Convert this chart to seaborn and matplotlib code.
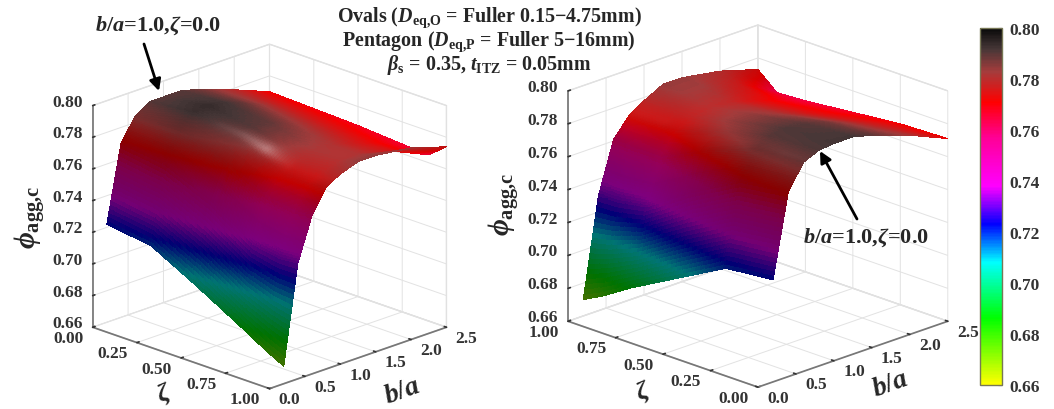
"""Two 3D surfaces of phi_agg,c over zeta and b/a, with a shared colorbar."""
import numpy as np
import seaborn as sns
import matplotlib.pyplot as plt
from matplotlib.cm import ScalarMappable
from matplotlib.colors import LinearSegmentedColormap, Normalize

sns.set_theme(style="white")
plt.rcParams['font.family'] = ['Liberation Serif', 'DejaVu Serif']
plt.rcParams['font.weight'] = 'bold'
plt.rcParams.update({
    'mathtext.fontset': 'custom',
    'mathtext.rm': 'Liberation Serif:bold',
    'mathtext.it': 'Liberation Serif:bold:italic',
    'mathtext.bf': 'Liberation Serif:bold',
})

# values
ZETA = [0.0, 0.25, 0.5, 0.75, 0.9, 1.0]
BA = [0.2, 0.4, 0.6, 0.8, 1.0, 1.25, 1.5, 2.0, 2.5]
PHI_LEFT = [
    [0.722, 0.770, 0.784, 0.790, 0.790, 0.790, 0.787, 0.779, 0.770],
    [0.718, 0.766, 0.785, 0.793, 0.794, 0.792, 0.788, 0.778, 0.769],
    [0.703, 0.754, 0.776, 0.786, 0.790, 0.789, 0.785, 0.776, 0.768],
    [0.687, 0.735, 0.762, 0.774, 0.779, 0.782, 0.781, 0.774, 0.766],
    [0.677, 0.732, 0.759, 0.773, 0.778, 0.781, 0.781, 0.775, 0.765],
    [0.671, 0.733, 0.760, 0.775, 0.780, 0.784, 0.784, 0.781, 0.774],
]
PHI_RIGHT = [
    [0.722, 0.772, 0.787, 0.791, 0.792, 0.792, 0.789, 0.781, 0.771],
    [0.719, 0.768, 0.785, 0.790, 0.791, 0.790, 0.787, 0.778, 0.770],
    [0.703, 0.752, 0.774, 0.782, 0.785, 0.785, 0.782, 0.774, 0.767],
    [0.687, 0.733, 0.760, 0.773, 0.778, 0.780, 0.779, 0.772, 0.764],
    [0.676, 0.730, 0.760, 0.772, 0.778, 0.783, 0.783, 0.776, 0.763],
    [0.670, 0.730, 0.761, 0.772, 0.778, 0.784, 0.784, 0.780, 0.773],
]
ZETA_TICKS = [0.0, 0.25, 0.5, 0.75, 1.0]
BA_TICKS = [0.0, 0.5, 1.0, 1.5, 2.0, 2.5]
PHI_TICKS = [0.66, 0.68, 0.70, 0.72, 0.74, 0.76, 0.78, 0.80]

CMAP_STOPS = [0.66, 0.686, 0.708, 0.723, 0.738, 0.757, 0.771, 0.783, 0.792, 0.80]
CMAP_COLORS = ['#ffff00', '#00ff00', '#00ffff', '#0000ff', '#ff00ff', '#ff0096',
               '#ff0000', '#a53c3c', '#463737', '#0a0a0a']

PHI_MIN, PHI_MAX = 0.66, 0.80
norm = Normalize(PHI_MIN, PHI_MAX)
cmap = LinearSegmentedColormap.from_list(
    'phi', [((s - PHI_MIN) / (PHI_MAX - PHI_MIN), c) for s, c in zip(CMAP_STOPS, CMAP_COLORS)])

ELEV, AZIM = 20.3, -45
SUB = 20  # facets per table cell, only so the colours blend across a cell


def fine_axis(values):
    values = np.asarray(values)
    idx = np.linspace(0, len(values) - 1, (len(values) - 1) * SUB + 1)
    return idx, np.interp(idx, np.arange(len(values)), values)


def fine_surface(phi):
    """each table cell split into SUB x SUB flat facets"""
    zi, zeta = fine_axis(ZETA)
    bi, ba = fine_axis(BA)
    phi = np.asarray(phi)
    rows = np.array([np.interp(bi, np.arange(len(BA)), r) for r in phi])
    fine = np.array([np.interp(zi, np.arange(len(ZETA)), c) for c in rows.T]).T
    return zeta, ba, fine


def blur(field, width):
    """box blur along both grid directions, edges held"""
    kernel = np.ones(width) / width
    pad = width // 2
    for axis in (0, 1):
        padded = np.pad(field, [(pad, pad) if a == axis else (0, 0) for a in range(field.ndim)], mode='edge')
        field = np.apply_along_axis(lambda v: np.convolve(v, kernel, mode='valid'), axis, padded)
    return field


def facet_colors(x, y, z, flip, box_z, light, spec_gain):
    """colormap colour darkened on steep facets, with a soft highlight"""
    X, Y = np.meshgrid(x, y, indexing='ij')
    bx = (1 - X if flip else X)
    by = Y / 2.5
    bz = (z - PHI_MIN) / (PHI_MAX - PHI_MIN) * box_z
    d1 = np.stack([bx[1:, 1:] - bx[:-1, :-1], by[1:, 1:] - by[:-1, :-1], bz[1:, 1:] - bz[:-1, :-1]], -1)
    d2 = np.stack([bx[1:, :-1] - bx[:-1, 1:], by[1:, :-1] - by[:-1, 1:], bz[1:, :-1] - bz[:-1, 1:]], -1)
    n = np.cross(d2, d1)
    n = n * np.sign(n[..., 2:3])
    n = n / np.linalg.norm(n, axis=-1, keepdims=True)
    n = np.stack([blur(n[..., i], SUB + 1) for i in range(3)], -1)
    n = n / np.linalg.norm(n, axis=-1, keepdims=True)
    mid = 0.25 * (z[1:, 1:] + z[:-1, :-1] + z[1:, :-1] + z[:-1, 1:])
    col = cmap(norm(mid))
    shade = 0.42 + 0.58 * np.clip(n[..., 2], 0, 1) ** 2
    col[..., :3] *= shade[..., None]
    h = np.asarray(light, float)
    h = h / np.linalg.norm(h)
    spec = np.clip((n * h).sum(-1), 0, 1) ** 120 * spec_gain
    col[..., :3] += (1 - col[..., :3]) * spec[..., None]
    return col


def draw_panel(fig, rect, phi, zeta_lim, box_z, light, spec_gain):
    ax = fig.add_axes(rect, projection='3d')
    ax.set_proj_type('ortho')
    ax.view_init(elev=ELEV, azim=AZIM)
    ax.set_box_aspect((1, 1, box_z), zoom=1.0)
    zeta, ba, fine = fine_surface(phi)
    colors = facet_colors(zeta, ba, fine, zeta_lim[0] > zeta_lim[1], box_z, light, spec_gain)
    X, Y = np.meshgrid(zeta, ba, indexing='ij')
    ax.plot_surface(X, Y, fine, facecolors=colors, rstride=1, cstride=1,
                    linewidth=0, antialiased=False, shade=False)
    ax.set_xlim(*zeta_lim)
    ax.set_ylim(0, 2.5)
    ax.set_zlim(PHI_MIN, PHI_MAX)
    ax.set_xticks(ZETA_TICKS, [f'{t:.2f}' for t in ZETA_TICKS])
    ax.set_yticks(BA_TICKS, [f'{t:.1f}' for t in BA_TICKS])
    ax.set_zticks(PHI_TICKS, [f'{t:.2f}' for t in PHI_TICKS])
    ax.zaxis.set_ticks_position('lower')
    ax.tick_params(axis='x', labelsize=12.5, pad=0, colors='#333333')
    ax.tick_params(axis='y', labelsize=12.5, pad=0, colors='#333333')
    ax.tick_params(axis='z', labelsize=12.5, pad=3, colors='#333333')
    for axis in (ax.xaxis, ax.yaxis, ax.zaxis):
        axis.set_pane_color((1, 1, 1, 1))
        axis.pane.set_edgecolor('#dddddd')
        axis._axinfo['grid'].update(color='#e2e2e2', linewidth=0.7)
        axis._axinfo['axisline']['color'] = '#777777'
        axis._axinfo['tick'].update(color='#555555', inward_factor=0.0, outward_factor=0.15)
        axis.line.set_color('#777777')
        for lab in axis.get_ticklabels():
            lab.set_fontweight('bold')
            lab.set_va('baseline')
    for lab in ax.get_xticklabels():
        lab.set_ha('right')
    for lab in ax.get_yticklabels():
        lab.set_ha('left')
    return ax


fig = plt.figure(figsize=(10.54, 4.10), dpi=100)

PX_W, PX_H = 1054.0, 410.0
side = 413.0
ax_left = draw_panel(fig, [(264 - side / 2) / PX_W, 1 - (223 + side / 2) / PX_H, side / PX_W, side / PX_H],
                     PHI_LEFT, (0, 1), 0.945, (0.36, -0.34, 0.87), 0.55)
side_r = 439.0
ax_right = draw_panel(fig, [(752 - side_r / 2) / PX_W, 1 - (213 + side_r / 2) / PX_H, side_r / PX_W, side_r / PX_H],
                      PHI_RIGHT, (1, 0), 0.915, (0.1, -0.5, 0.86), 0.1)

# titre
TITLE_LINES = [
    r'Ovals ($\mathit{D}_{\mathrm{eq{,}O}}$ = Fuller 0.15−4.75mm)',
    r'Pentagon ($\mathit{D}_{\mathrm{eq{,}P}}$ = Fuller 5−16mm)',
    r'$\mathit{\beta}_{\mathrm{s}}$ = 0.35, $\mathit{t}_{\mathrm{ITZ}}$ = 0.05mm',
]
for line, y in zip(TITLE_LINES, [22, 46, 70]):
    fig.text(489 / PX_W, 1 - y / PX_H, line, ha='center', va='baseline', fontsize=14.4, fontweight='bold')

PHI_LABEL = r'$\mathit{\phi}_{\mathrm{agg{,}c}}$'
ZETA_LABEL = r'$\mathit{\zeta}$'
BA_LABEL = r'$\mathit{b/a}$'
NOTE = r'$\mathit{b/a}$=1.0,$\mathit{\zeta}$=0.0'


def ftext(x, y, s, **kw):
    fig.text(x / PX_W, 1 - y / PX_H, s, ha='center', va='center', fontweight='bold', **kw)


ftext(30, 217, PHI_LABEL, fontsize=21, rotation=90)
ftext(505, 204, PHI_LABEL, fontsize=21, rotation=90)
ftext(164, 394, ZETA_LABEL, fontsize=19, rotation=20)
ftext(643, 392, ZETA_LABEL, fontsize=19, rotation=20)
ftext(402, 392, BA_LABEL, fontsize=20, rotation=20)
ftext(890, 385, BA_LABEL, fontsize=20, rotation=20)
ftext(158, 26, NOTE, fontsize=16)
ftext(866, 238, NOTE, fontsize=16)

for start, end in [((144, 45), (159, 92)), ((857, 220), (820, 152))]:
    fig.add_artist(plt.Annotation(
        '', xy=(end[0] / PX_W, 1 - end[1] / PX_H), xytext=(start[0] / PX_W, 1 - start[1] / PX_H),
        xycoords='figure fraction', textcoords='figure fraction',
        arrowprops=dict(arrowstyle='-|>', color='black', lw=2, mutation_scale=17, shrinkA=0, shrinkB=0)))

# colorbar
cax = fig.add_axes([980 / PX_W, 1 - 386 / PX_H, 22 / PX_W, 357 / PX_H])
cbar = fig.colorbar(ScalarMappable(norm=norm, cmap=cmap), cax=cax)
cbar.set_ticks(PHI_TICKS, labels=[f'{t:.2f}' for t in PHI_TICKS])
cbar.ax.tick_params(labelsize=12.5, length=3, width=0.8, direction='in', pad=5, colors='#333333')
cbar.outline.set_edgecolor('#777755')
cbar.outline.set_linewidth(1)
for lab in cbar.ax.get_yticklabels():
    lab.set_fontweight('bold')

fig.savefig('out.png', dpi=100)
